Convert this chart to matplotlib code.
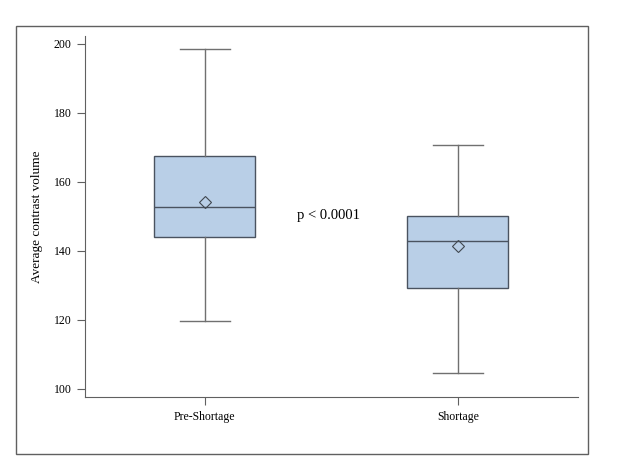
import matplotlib.pyplot as plt
from matplotlib.patches import Rectangle

# --- Data --------------------------------------------------------------------
groups = ['Pre-Shortage', 'Shortage']
whisker_low = [119.7, 104.6]
q1 = [144.1, 129.3]
median = [152.8, 142.8]
q3 = [167.5, 150.1]
whisker_high = [198.6, 170.8]
mean = [154.3, 141.4]
p_text = 'p < 0.0001'
yticks = [100, 120, 140, 160, 180, 200]

plt.rcParams['font.family'] = ['Liberation Serif', 'DejaVu Serif']

fig = plt.figure(figsize=(6.24, 4.68), dpi=100)
ax = fig.add_axes([0.136, 0.152, 0.790, 0.771])

# outer frame around the whole chart
fig.patches.append(Rectangle((0.025, 0.030), 0.917, 0.914, transform=fig.transFigure,
                             fill=False, edgecolor='#606060', linewidth=1.0))

stats = [dict(label=g, whislo=lo, q1=a, med=m, q3=b, whishi=hi, mean=mu, fliers=[])
         for g, lo, a, m, b, hi, mu in zip(groups, whisker_low, q1, median, q3, whisker_high, mean)]

edge = '#4a5360'
ax.bxp(stats, positions=[1, 2], widths=0.4, showmeans=True, patch_artist=True,
       boxprops=dict(facecolor='#b9cfe7', edgecolor=edge, linewidth=1.0),
       medianprops=dict(color=edge, linewidth=1.0),
       whiskerprops=dict(color='#707070', linewidth=1.0),
       capprops=dict(color='#707070', linewidth=1.0),
       meanprops=dict(marker='D', markerfacecolor='none', markeredgecolor='#404850',
                      markersize=6.5, markeredgewidth=0.8))

ax.text(1.49, 150.4, p_text, ha='center', va='center', fontsize=10.5)

ax.set_xlim(0.526, 2.474)
ax.set_ylim(97.7, 202.3)
ax.set_yticks(yticks)
ax.set_ylabel('Average contrast volume', fontsize=9.5, labelpad=8)

for side in ['top', 'right']:
    ax.spines[side].set_visible(False)
for side in ['left', 'bottom']:
    ax.spines[side].set_color('#606060')
ax.tick_params(colors='#606060', labelcolor='black', labelsize=8.5, length=6)
ax.tick_params(axis='x', pad=4)

fig.savefig('out.png', dpi=100)
